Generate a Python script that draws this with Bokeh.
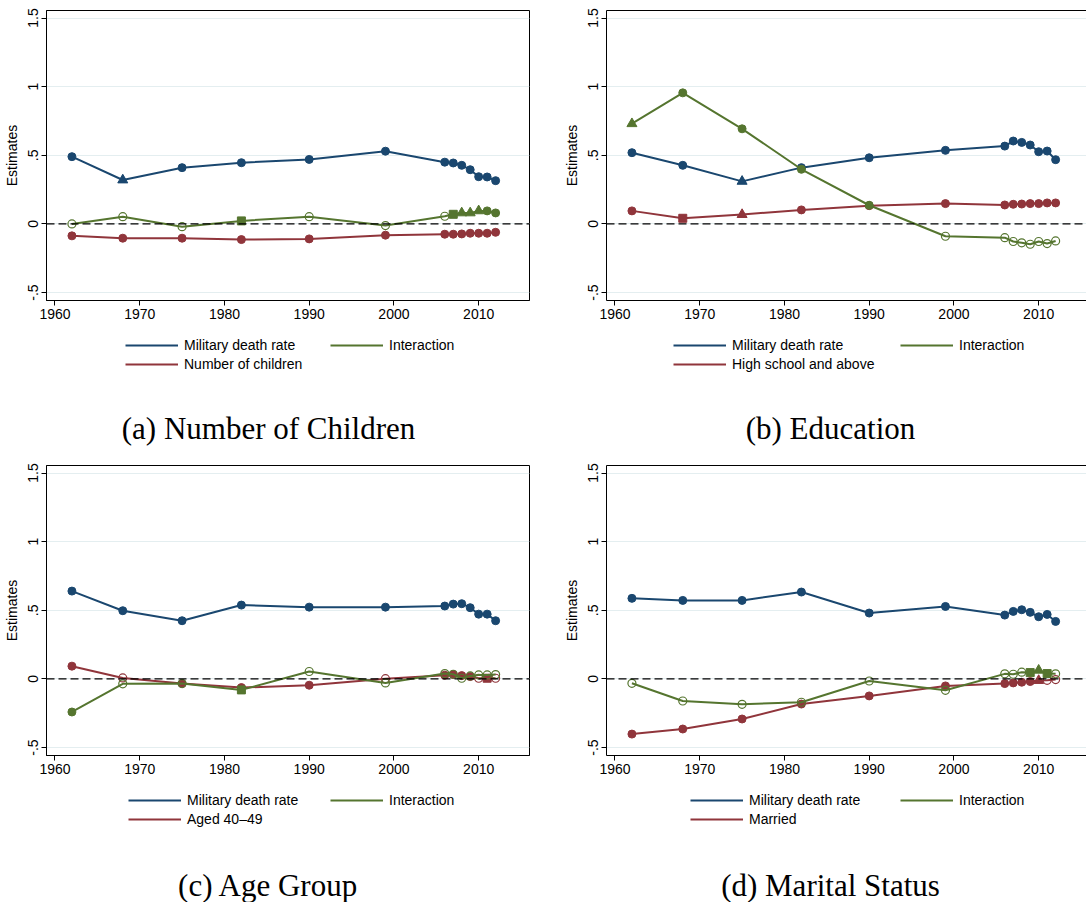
from bokeh.plotting import figure
from bokeh.models import (Range1d, FixedTicker, CustomJSTickFormatter, Span, Legend,
                          LegendItem, Label, LinearAxis)
from bokeh.layouts import column, row
from bokeh.embed import file_html
from bokeh.resources import INLINE

# ---------------- data ----------------
YEARS = [1962, 1968, 1975, 1982, 1990, 1999, 2006, 2007, 2008, 2009, 2010, 2011, 2012]
X_TICKS = [1960, 1970, 1980, 1990, 2000, 2010]
Y_TICKS = [-0.5, 0, 0.5, 1, 1.5]

# significance codes: 3 = p<.01 (filled circle), 2 = p<.05 (triangle),
#                     1 = p<.10 (square), 0 = not significant (hollow circle)

# (a) Number of Children
A_MIL = [0.49, 0.32, 0.41, 0.446, 0.47, 0.53, 0.45, 0.444, 0.427, 0.395, 0.344, 0.342, 0.315]
A_MIL_SIG = [3, 2, 3, 3, 3, 3, 3, 3, 3, 3, 3, 3, 3]
A_INT = [0.0, 0.053, -0.02, 0.022, 0.053, -0.012, 0.056, 0.07, 0.08, 0.08, 0.095, 0.095, 0.08]
A_INT_SIG = [0, 0, 0, 1, 0, 0, 0, 1, 2, 2, 2, 3, 3]
A_OTH = [-0.087, -0.104, -0.104, -0.114, -0.109, -0.082, -0.075, -0.075, -0.073, -0.068, -0.068, -0.068, -0.061]
A_OTH_SIG = [3, 3, 3, 3, 3, 3, 3, 3, 3, 3, 3, 3, 3]

# (b) Education
B_MIL = [0.519, 0.427, 0.31, 0.41, 0.482, 0.536, 0.567, 0.604, 0.594, 0.575, 0.526, 0.531, 0.468]
B_MIL_SIG = [3, 3, 2, 3, 3, 3, 3, 3, 3, 3, 3, 3, 3]
B_INT = [0.73, 0.955, 0.693, 0.398, 0.136, -0.09, -0.10, -0.128, -0.138, -0.148, -0.128, -0.143, -0.124]
B_INT_SIG = [2, 3, 3, 3, 3, 0, 0, 0, 0, 0, 0, 0, 0]
B_OTH = [0.095, 0.041, 0.068, 0.102, 0.133, 0.148, 0.138, 0.143, 0.145, 0.148, 0.148, 0.153, 0.153]
B_OTH_SIG = [3, 1, 2, 3, 3, 3, 3, 3, 3, 3, 3, 3, 3]

# (c) Age Group
C_MIL = [0.64, 0.497, 0.424, 0.538, 0.523, 0.523, 0.531, 0.545, 0.548, 0.519, 0.472, 0.472, 0.424]
C_MIL_SIG = [3, 3, 3, 3, 3, 3, 3, 3, 3, 3, 3, 3, 3]
C_INT = [-0.241, -0.036, -0.034, -0.08, 0.054, -0.029, 0.039, 0.034, 0.005, 0.022, 0.029, 0.029, 0.032]
C_INT_SIG = [3, 0, 0, 1, 0, 0, 0, 0, 0, 0, 0, 0, 0]
C_OTH = [0.093, 0.007, -0.034, -0.063, -0.046, 0.002, 0.027, 0.032, 0.024, 0.017, 0.005, 0.005, 0.005]
C_OTH_SIG = [3, 0, 3, 3, 3, 0, 3, 3, 3, 3, 0, 1, 0]

# (d) Marital Status
D_MIL = [0.587, 0.572, 0.572, 0.633, 0.48, 0.528, 0.465, 0.492, 0.504, 0.485, 0.453, 0.47, 0.419]
D_MIL_SIG = [3, 3, 3, 3, 3, 3, 3, 3, 3, 3, 3, 3, 3]
D_INT = [-0.032, -0.161, -0.185, -0.17, -0.015, -0.083, 0.037, 0.034, 0.049, 0.046, 0.063, 0.039, 0.037]
D_INT_SIG = [0, 0, 0, 0, 0, 0, 0, 0, 0, 1, 2, 1, 0]
D_OTH = [-0.402, -0.365, -0.292, -0.183, -0.124, -0.051, -0.034, -0.029, -0.024, -0.019, -0.012, -0.01, -0.005]
D_OTH_SIG = [3, 3, 3, 3, 3, 3, 3, 3, 3, 3, 2, 0, 0]

LBL_MIL = "Military death rate"
LBL_INT = "Interaction"
LBL_OTH = ["Number of children", "High school and above", "Aged 40\u201349", "Married"]
CAPTIONS = ["(a) Number of Children", "(b) Education", "(c) Age Group", "(d) Marital Status"]

# ---------------- style ----------------
NAVY = "#1a476f"
MAROON = "#90353b"
GREEN = "#55752f"
SANS = "Liberation Sans"
SERIF = "Liberation Serif"

MARKERS = {3: ("circle", 8, False), 2: ("triangle", 10, False),
           1: ("square", 8, False), 0: ("circle", 8, True)}


def frame_geom(idx):
    left = idx % 2 == 0
    return dict(fw=483 if left else 480, bl=46 if left else 63, br=14 if left else 0)


def draw_series(p, ys, sig, color):
    p.line(YEARS, ys, line_color=color, line_width=2)
    for code, (marker, size, hollow) in MARKERS.items():
        xs = [x for x, s in zip(YEARS, sig) if s == code]
        yv = [y for y, s in zip(ys, sig) if s == code]
        if not xs:
            continue
        p.scatter(xs, yv, marker=marker, size=size, line_color=color,
                  fill_color=None if hollow else color,
                  line_width=1.2 if hollow else 1)


def make_plot(idx, mil, mil_sig, inter, inter_sig, oth, oth_sig):
    left = idx % 2 == 0
    top = idx < 2
    g = frame_geom(idx)
    x_end = 1959 + g["fw"] / 8.474
    p = figure(frame_width=g["fw"], frame_height=290,
               x_range=Range1d(1959, x_end), y_range=Range1d(-0.558, 1.555),
               output_backend="svg", toolbar_location=None, title=None,
               min_border_left=g["bl"], min_border_right=g["br"],
               min_border_top=10 if top else 14, min_border_bottom=28,
               background_fill_color="white", border_fill_color="white")
    p.outline_line_color = "black" if left else None

    p.xaxis.ticker = FixedTicker(ticks=X_TICKS)
    p.yaxis.ticker = FixedTicker(ticks=Y_TICKS)
    p.yaxis.formatter = CustomJSTickFormatter(code="""
        if (tick == 0) return "0";
        return tick.toString().replace(/^(-?)0\\./, "$1.");
    """)
    for ax in (p.xaxis[0], p.yaxis[0]):
        ax.major_tick_out = 5
        ax.major_tick_in = 0
        ax.minor_tick_line_color = None
        ax.axis_line_color = "black"
        ax.major_tick_line_color = "black"
        ax.major_label_text_font = SANS
        ax.major_label_text_font_size = "14px"
        ax.major_label_text_color = "black"
        ax.major_label_standoff = 3
    p.yaxis.major_label_orientation = "vertical"
    p.yaxis.axis_label = "Estimates"
    p.yaxis.axis_label_text_font = SANS
    p.yaxis.axis_label_text_font_size = "14px"
    p.yaxis.axis_label_text_font_style = "normal"
    p.yaxis.axis_label_standoff = 6
    p.yaxis.axis_label_text_color = "black"

    if not left:
        top_ax = LinearAxis(ticker=FixedTicker(ticks=[]), major_tick_out=0, major_tick_in=0,
                            minor_tick_line_color=None, major_label_text_font_size="0px",
                            major_label_standoff=0, axis_line_color="black")
        p.add_layout(top_ax, "above")

    p.xgrid.grid_line_color = None
    p.ygrid.grid_line_color = "#e4eef0"
    p.ygrid.grid_line_width = 1

    p.add_layout(Span(location=0, dimension="width", line_color="black",
                      line_width=1.2, line_dash="8 4"))

    draw_series(p, mil, mil_sig, NAVY)
    draw_series(p, oth, oth_sig, MAROON)
    draw_series(p, inter, inter_sig, GREEN)
    return p


def make_key(idx, height, mil, inter, oth, leg_x, leg_lw, cap_x, cap_from_top):
    g = frame_geom(idx)
    # ranges in frame pixels; the series (years) fall outside, so only the legend shows them
    k = figure(frame_width=g["fw"], frame_height=height,
               x_range=Range1d(0, g["fw"]), y_range=Range1d(0, height),
               x_axis_type=None, y_axis_type=None,
               output_backend="svg", toolbar_location=None, title=None,
               min_border_left=g["bl"], min_border_right=g["br"],
               min_border_top=0, min_border_bottom=0, outline_line_color=None,
               background_fill_color="white", border_fill_color="white")
    k.grid.grid_line_color = None
    r_mil = k.line(YEARS, mil, line_color=NAVY, line_width=2)
    r_int = k.line(YEARS, inter, line_color=GREEN, line_width=2)
    r_oth = k.line(YEARS, oth, line_color=MAROON, line_width=2)
    legend = Legend(items=[LegendItem(label=LBL_MIL, renderers=[r_mil]),
                           LegendItem(label=LBL_INT, renderers=[r_int]),
                           LegendItem(label=LBL_OTH[idx], renderers=[r_oth])],
                    orientation="horizontal", ncols=2,
                    location=(leg_x, height - 44), margin=0, padding=0, spacing=3,
                    glyph_width=53, glyph_height=16, label_height=16,
                    label_width=leg_lw, label_standoff=6,
                    label_text_font=SANS, label_text_font_size="14px",
                    label_text_color="black",
                    background_fill_alpha=0, border_line_color=None)
    k.add_layout(legend, "center")
    cap = Label(x=cap_x, y=height - cap_from_top, text=CAPTIONS[idx],
                text_align="center", text_baseline="middle",
                text_font=SERIF, text_font_size="31px", text_color="black")
    k.add_layout(cap)
    return k


pa = make_plot(0, A_MIL, A_MIL_SIG, A_INT, A_INT_SIG, A_OTH, A_OTH_SIG)
pb = make_plot(1, B_MIL, B_MIL_SIG, B_INT, B_INT_SIG, B_OTH, B_OTH_SIG)
pc = make_plot(2, C_MIL, C_MIL_SIG, C_INT, C_INT_SIG, C_OTH, C_OTH_SIG)
pd = make_plot(3, D_MIL, D_MIL_SIG, D_INT, D_INT_SIG, D_OTH, D_OTH_SIG)

ka = make_key(0, 123, A_MIL, A_INT, A_OTH, 79, 143, 222, 100)
kb = make_key(1, 123, B_MIL, B_INT, B_OTH, 67, 165, 224, 100)
kc = make_key(2, 119, C_MIL, C_INT, C_OTH, 82, 140, 222, 102)
kd = make_key(3, 119, D_MIL, D_INT, D_OTH, 84, 148, 224, 102)

layout = column(row(column(pa, ka), column(pb, kb)),
                row(column(pc, kc), column(pd, kd)))
open("out.html", "w").write(file_html(layout, INLINE))
